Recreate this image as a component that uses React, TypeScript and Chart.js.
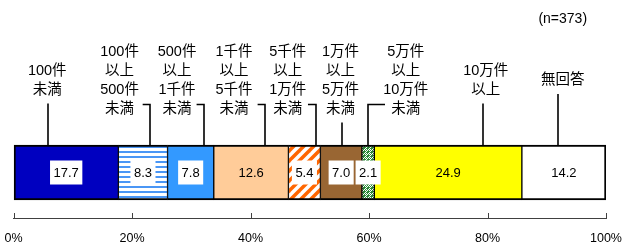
import React, { useEffect, useRef } from "react";
import { Chart, registerables } from "chart.js";

Chart.register(...registerables);

// ---- data ----
const categoryLines: string[][] = [
  ["100件", "未満"],
  ["100件", "以上", "500件", "未満"],
  ["500件", "以上", "1千件", "未満"],
  ["1千件", "以上", "5千件", "未満"],
  ["5千件", "以上", "1万件", "未満"],
  ["1万件", "以上", "5万件", "未満"],
  ["5万件", "以上", "10万件", "未満"],
  ["10万件", "以上"],
  ["無回答"],
];
const values: number[] = [17.7, 8.3, 7.8, 12.6, 5.4, 7.0, 2.1, 24.9, 14.2];
const tickValues: number[] = [0, 20, 40, 60, 80, 100];
const sampleNote = "(n=373)";

// ---- style / layout (kept separate from data) ----
const FONT = '"Liberation Sans", "Noto Sans CJK JP", sans-serif';
const fillKinds: string[] = ["#0000C0", "hstripe", "#3399FF", "#FFCC99", "diag", "#996633", "check", "#FFFF00", "#FFFFFF"];
const labelBoxed: boolean[] = [true, true, true, false, true, true, true, false, false];
// label anchors in axis units (%): text center, leader x, elbow start (null = straight)
const labelTextX: number[] = [5.7, 17.9, 27.6, 37.2, 46.3, 55.2, 66.2, 79.7, 92.7];
const labelLineX: number[] = [5.9, 23.1, 32.1, 42.4, 51.0, 55.4, 59.8, 79.2, 91.9];
const labelElbowX: (number | null)[] = [null, 21.8, 30.9, 41.2, 49.7, null, 62.7, null, null];

function makePattern(kind: string): CanvasPattern | string {
  const c = document.createElement("canvas");
  const g = c.getContext("2d")!;
  if (kind === "hstripe") {
    c.width = 4; c.height = 5;
    g.fillStyle = "#FFFFFF"; g.fillRect(0, 0, 4, 5);
    g.fillStyle = "#4A96F5"; g.fillRect(0, 1, 4, 2);
  } else if (kind === "diag") {
    c.width = 10; c.height = 10;
    g.fillStyle = "#FFFFFF"; g.fillRect(0, 0, 10, 10);
    g.strokeStyle = "#FF6600"; g.lineWidth = 3.5;
    for (let k = -20; k <= 20; k += 10) {
      g.beginPath(); g.moveTo(k - 2, 12); g.lineTo(k + 12, -2); g.stroke();
    }
  } else if (kind === "check") {
    c.width = 4; c.height = 4;
    g.fillStyle = "#2E8B3A"; g.fillRect(0, 0, 4, 4);
    g.fillStyle = "#FFFFFF";
    g.fillRect(1, 0, 1, 1); g.fillRect(0, 1, 1, 1); g.fillRect(2, 1, 1, 1); g.fillRect(1, 2, 1, 1);
    g.fillRect(3, 2, 1, 1); g.fillRect(2, 3, 1, 1);
  } else {
    return kind;
  }
  return g.createPattern(c, "repeat")!;
}

const overlay = {
  id: "overlay",
  afterDatasetsDraw(chart: any) {
    const ctx: CanvasRenderingContext2D = chart.ctx;
    const xs = chart.scales.x;
    const area = chart.chartArea;
    ctx.save();
    // value labels
    ctx.font = "13px " + FONT;
    ctx.textAlign = "center";
    ctx.textBaseline = "middle";
    let barTop = 0;
    chart.data.datasets.forEach((_ds: any, i: number) => {
      const el = chart.getDatasetMeta(i).data[0];
      const cx = (el.x + el.base) / 2;
      const cy = el.y;
      barTop = el.y - el.height / 2;
      const txt = values[i].toFixed(1);
      const w = ctx.measureText(txt).width;
      if (labelBoxed[i]) {
        ctx.fillStyle = "#FFFFFF";
        ctx.fillRect(cx - w / 2 - 3.5, cy - 12, w + 7, 24);
      }
      ctx.fillStyle = "#000000";
      ctx.fillText(txt, cx, cy + 1);
    });
    // axis tick marks (upward)
    ctx.strokeStyle = "#404040";
    ctx.lineWidth = 1;
    tickValues.forEach((v) => {
      const x = Math.round(xs.getPixelForValue(v)) + 0.5;
      ctx.beginPath(); ctx.moveTo(x, area.bottom - 5); ctx.lineTo(x, area.bottom); ctx.stroke();
    });
    // category labels + leaders
    const lineH = 19;
    const midY = 80;
    ctx.font = "14.5px " + FONT;
    ctx.fillStyle = "#000000";
    ctx.strokeStyle = "#000000";
    ctx.lineWidth = 1.6;
    categoryLines.forEach((lines, i) => {
      const tx = xs.getPixelForValue(labelTextX[i]);
      const top = midY - ((lines.length - 1) * lineH) / 2;
      lines.forEach((s, j) => ctx.fillText(s, tx, top + j * lineH));
      const lastY = top + (lines.length - 1) * lineH;
      const lx = Math.round(xs.getPixelForValue(labelLineX[i]));
      const ex = labelElbowX[i];
      ctx.beginPath();
      if (ex === null) {
        ctx.moveTo(lx, lastY + 14);
        ctx.lineTo(lx, barTop);
      } else {
        const ey = lastY - 4;
        ctx.moveTo(xs.getPixelForValue(ex), ey);
        ctx.lineTo(lx, ey);
        ctx.lineTo(lx, barTop);
      }
      ctx.stroke();
    });
    // sample size note
    ctx.font = "14px " + FONT;
    ctx.fillText(sampleNote, xs.getPixelForValue(92.7), 19);
    ctx.restore();
  },
};

export default function App() {
  const ref = useRef<HTMLCanvasElement>(null);
  useEffect(() => {
    const canvas = ref.current!;
    const datasets = values.map((v, i) => {
      const last = i === values.length - 1;
      return {
        label: categoryLines[i].join(""),
        data: [v],
        backgroundColor: makePattern(fillKinds[i]),
        borderColor: "#000000",
        borderWidth: { top: 2, bottom: 2, left: i === 0 ? 2 : 1, right: last ? 2 : 1 },
        borderSkipped: false,
        barThickness: 55,
      };
    });
    const chart = new Chart(canvas, {
      type: "bar",
      data: { labels: [""], datasets },
      options: {
        indexAxis: "y",
        animation: false,
        responsive: false,
        devicePixelRatio: 1,
        layout: { padding: { left: 13.5, right: 16, top: 127, bottom: 0 } },
        plugins: { legend: { display: false }, tooltip: { enabled: false } },
        scales: {
          x: {
            stacked: true,
            min: 0,
            max: 100,
            afterBuildTicks: (s: any) => { s.ticks = tickValues.map((v) => ({ value: v })); },
            afterFit: (s: any) => { s.height = 29; s.paddingLeft = 0; s.paddingRight = 0; },
            ticks: {
              callback: (v: any) => v + "%",
              color: "#000000",
              font: { size: 12.5, family: FONT },
              padding: 13,
              maxRotation: 0,
            },
            grid: { display: true, drawOnChartArea: false, drawTicks: false },
            border: { display: true, color: "#404040", width: 1 },
          },
          y: { stacked: true, display: false },
        },
      },
      plugins: [overlay],
    } as any);
    return () => chart.destroy();
  }, []);
  return (
    <div style={{ position: "fixed", left: 0, top: 0, width: 622, height: 247, background: "#fff" }}>
      <canvas ref={ref} width={622} height={247} style={{ display: "block" }} />
    </div>
  );
}
